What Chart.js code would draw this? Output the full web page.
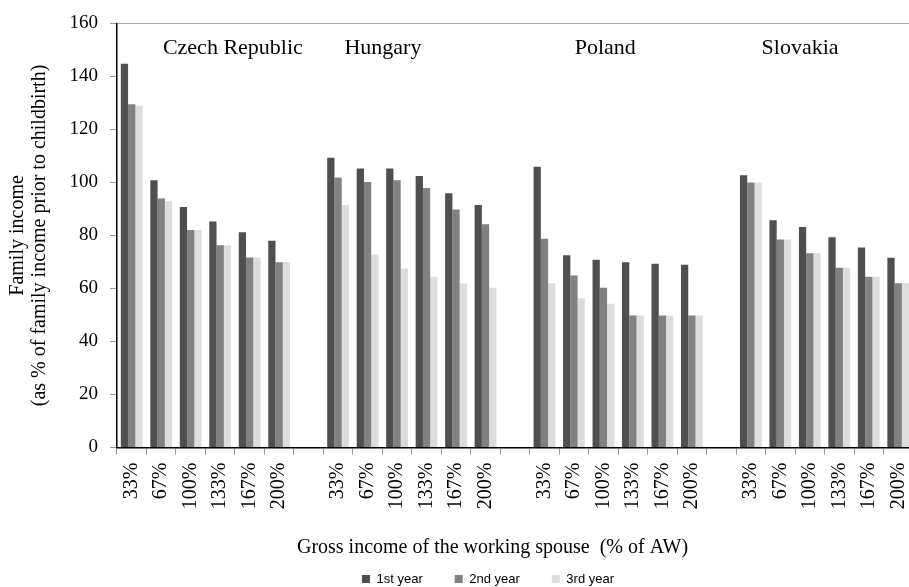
<!DOCTYPE html>
<html>
<head>
<meta charset="utf-8">
<script src="https://cdn.jsdelivr.net/npm/chart.js@4.4.0/dist/chart.umd.min.js"></script>
<style>
html,body{margin:0;padding:0;background:#fff;overflow:hidden;width:909px;height:587px;}
#wrap{position:relative;width:976px;height:587px;}
</style>
</head>
<body>
<div id="wrap"><canvas id="c" width="976" height="587"></canvas></div>
<script>
// ---- data ----
const countries = ['Czech Republic', 'Hungary', 'Poland', 'Slovakia'];
const incomeLevels = ['33%', '67%', '100%', '133%', '167%', '200%'];
const seriesNames = ['1st year', '2nd year', '3rd year'];

const czech1 = [144.8, 100.8, 90.7, 85.3, 81.2, 78.0];
const czech2 = [129.5, 93.9, 82.1, 76.3, 71.7, 69.9];
const czech3 = [128.9, 92.9, 82.1, 76.3, 71.7, 69.9];

const hungary1 = [109.3, 105.3, 105.3, 102.4, 95.9, 91.5];
const hungary2 = [101.9, 100.2, 100.8, 97.9, 89.8, 84.2];
const hungary3 = [91.5, 72.8, 67.5, 64.4, 61.9, 60.3];

const poland1 = [105.9, 72.5, 70.8, 69.9, 69.3, 68.9];
const poland2 = [78.8, 64.9, 60.3, 49.8, 49.8, 49.8];
const poland3 = [62.0, 56.3, 54.2, 49.8, 49.8, 49.8];

const slovakia1 = [102.7, 85.7, 83.2, 79.3, 75.5, 71.6];
const slovakia2 = [100.0, 78.5, 73.3, 67.8, 64.4, 62.0];
const slovakia3 = [100.0, 78.5, 73.3, 67.8, 64.4, 62.0];

const yMin = 0, yMax = 160, yStep = 20;

// ---- build category table (empty gap category between countries) ----
const groups1 = [czech1, hungary1, poland1, slovakia1];
const groups2 = [czech2, hungary2, poland2, slovakia2];
const groups3 = [czech3, hungary3, poland3, slovakia3];

const labels = [];
countries.forEach((c, i) => {
  incomeLevels.forEach(l => labels.push(l));
  if (i < countries.length - 1) labels.push('');
});
function flatten(groups) {
  const out = [];
  groups.forEach((g, i) => {
    g.forEach(v => out.push(v));
    if (i < groups.length - 1) out.push(null);
  });
  return out;
}

const serif = '"Liberation Serif", "Times New Roman", serif';
const sans = '"Liberation Sans", Arial, sans-serif';

// country label annotation (position in category units, y in value units)
const countryLabelPlugin = {
  id: 'countryLabels',
  afterDatasetsDraw(chart) {
    const pos = [3.43, 8.52, 16.06, 22.67];
    const x = chart.scales.x, y = chart.scales.y;
    const ctx = chart.ctx;
    ctx.save();
    ctx.font = '22px ' + serif;
    ctx.fillStyle = '#000';
    ctx.textAlign = 'center';
    ctx.textBaseline = 'middle';
    countries.forEach((c, i) => {
      ctx.fillText(c, x.getPixelForValue(pos[i]), y.getPixelForValue(150.7));
    });
    ctx.restore();
  }
};

new Chart(document.getElementById('c'), {
  type: 'bar',
  data: {
    labels: labels,
    datasets: [
      { label: seriesNames[0], data: flatten(groups1), backgroundColor: '#4f4f4f' },
      { label: seriesNames[1], data: flatten(groups2), backgroundColor: '#818181' },
      { label: seriesNames[2], data: flatten(groups3), backgroundColor: '#dddddd' }
    ]
  },
  options: {
    responsive: false,
    animation: false,
    layout: { padding: { top: 20, bottom: -8.5, left: 0, right: 0 } },
    datasets: { bar: { categoryPercentage: 0.74, barPercentage: 1.0, borderWidth: 0 } },
    plugins: {
      legend: {
        position: 'bottom',
        labels: {
          boxWidth: 8, boxHeight: 8, padding: 32, color: '#000',
          font: { family: sans, size: 13 }
        }
      },
      tooltip: { enabled: false }
    },
    scales: {
      x: {
        offset: true,
        grid: { offset: true, drawOnChartArea: false, drawTicks: true, tickLength: 7, tickColor: '#999', lineWidth: 1 },
        border: { color: '#000', width: 1.5 },
        ticks: {
          autoSkip: false, minRotation: 90, maxRotation: 90, padding: 8, color: '#000',
          font: { family: serif, size: 20 }
        },
        title: {
          display: true,
          text: 'Gross income of the working spouse  (% of AW)         ',
          color: '#000',
          font: { family: serif, size: 20 },
          padding: { top: 0, bottom: -19.5 }
        },
        afterFit: s => { s.height = 93; }
      },
      y: {
        min: yMin, max: yMax,
        ticks: { stepSize: yStep, padding: 12, color: '#000', font: { family: serif, size: 19 } },
        grid: {
          color: c => (c.tick && c.tick.value === yMax) ? '#a8a8a8' : 'rgba(0,0,0,0)',
          tickColor: '#999', tickLength: 7, drawTicks: true
        },
        border: { color: '#000', width: 1.5 },
        title: {
          display: true,
          text: ['Family income', '(as % of family income prior to childbirth)'],
          color: '#000',
          font: { family: serif, size: 20, lineHeight: 1.1 },
          padding: { top: 7, bottom: 0 }
        },
        afterFit: s => { s.width = 117; }
      },
      yR: {
        position: 'right',
        grid: { display: false },
        ticks: { display: false },
        border: { display: false },
        afterFit: s => { s.width = 63; }
      }
    }
  },
  plugins: [countryLabelPlugin]
});
</script>
</body>
</html>
